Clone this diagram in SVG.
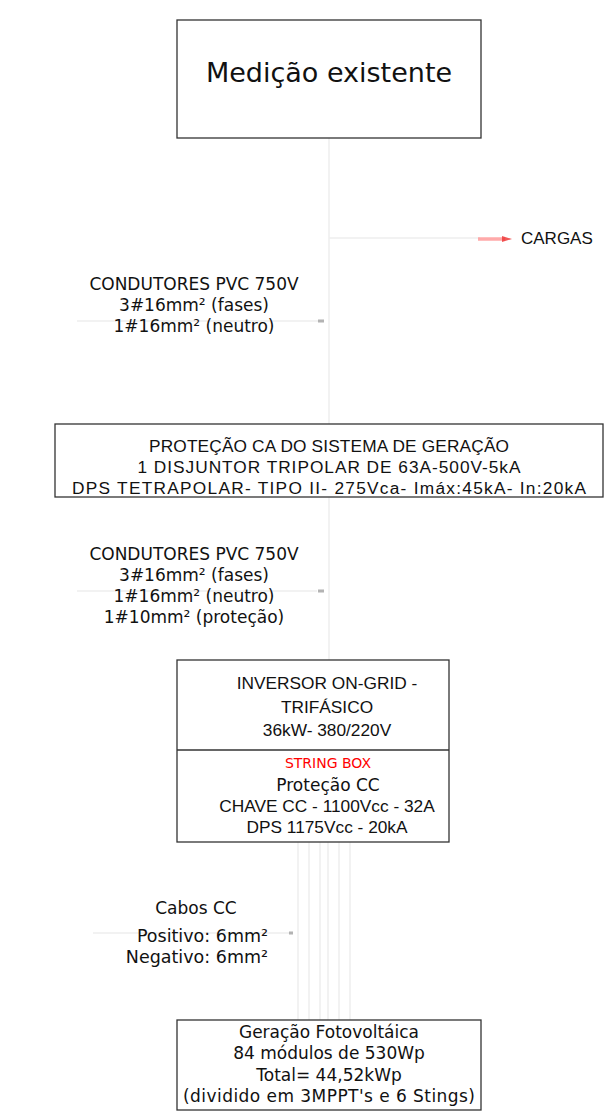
<svg xmlns="http://www.w3.org/2000/svg" width="612" height="1119" viewBox="0 0 612 1119">
<style>
.box{fill:#fff;stroke:#333;stroke-width:1.3}
.dj{font-family:"DejaVu Sans",Verdana,sans-serif;fill:#111;text-anchor:middle;font-size:17px}
.ar{font-family:"Liberation Sans",Arial,sans-serif;fill:#111;text-anchor:middle;font-size:17.3px}
.wire{stroke:#eeeeee;stroke-width:1.5;fill:none}
.tip{fill:#9a9a9a;opacity:0.75}
</style>
<rect width="612" height="1119" fill="#fff"/>
<g id="connectors">
<line class="wire" x1="329" y1="138" x2="329" y2="424"/>
<line class="wire" x1="329" y1="238" x2="480" y2="238"/>
<line x1="478" y1="239" x2="505" y2="239" stroke="#ff9c9c" stroke-width="3.5" opacity="0.85"/>
<polygon points="502,236 512,239 502,242" fill="#ee3a3a" opacity="0.85"/>
<line class="wire" x1="77" y1="321" x2="318" y2="321"/>
<rect class="tip" x="318" y="319.5" width="6" height="3"/>
<line class="wire" x1="329" y1="497" x2="329" y2="660"/>
<line class="wire" x1="77" y1="591" x2="317" y2="591"/>
<rect class="tip" x="318" y="589.5" width="6" height="3"/>
<line class="wire" x1="298" y1="842" x2="298" y2="1020"/>
<line class="wire" x1="309" y1="842" x2="309" y2="1020"/>
<line class="wire" x1="320" y1="842" x2="320" y2="1020"/>
<line class="wire" x1="328" y1="842" x2="328" y2="1020"/>
<line class="wire" x1="339" y1="842" x2="339" y2="1020"/>
<line class="wire" x1="350" y1="842" x2="350" y2="1020"/>
<line class="wire" x1="93" y1="933" x2="289" y2="933"/>
<rect class="tip" x="289" y="931.5" width="4" height="3"/>
</g>
<g id="medicao">
<rect class="box" x="177" y="20" width="304" height="118"/>
<text class="dj" x="329" y="82" style="font-size:27px">Medição existente</text>
</g>
<g id="cargas">
<text x="521" y="244" font-family="Liberation Sans, Arial, sans-serif" font-size="17" fill="#111">CARGAS</text>
</g>
<g id="condutores1">
<text class="dj" x="194" y="290">CONDUTORES PVC 750V</text>
<text class="dj" x="194" y="311">3#16mm² (fases)</text>
<text class="dj" x="194" y="332">1#16mm² (neutro)</text>
</g>
<g id="protecao-ca">
<rect class="box" x="55" y="424" width="548" height="73"/>
<text class="ar" x="329" y="452" textLength="360" lengthAdjust="spacing">PROTEÇÃO CA DO SISTEMA DE GERAÇÃO</text>
<text class="ar" x="329" y="473" textLength="383" lengthAdjust="spacing">1 DISJUNTOR TRIPOLAR DE 63A-500V-5kA</text>
<text class="ar" x="329" y="494" textLength="514" lengthAdjust="spacing">DPS TETRAPOLAR- TIPO II- 275Vca- Imáx:45kA- In:20kA</text>
</g>
<g id="condutores2">
<text class="dj" x="194" y="560">CONDUTORES PVC 750V</text>
<text class="dj" x="194" y="581">3#16mm² (fases)</text>
<text class="dj" x="194" y="602">1#16mm² (neutro)</text>
<text class="dj" x="194" y="623">1#10mm² (proteção)</text>
</g>
<g id="inversor">
<rect class="box" x="177" y="660" width="272" height="182"/>
<line x1="177" y1="750" x2="449" y2="750" stroke="#333" stroke-width="1.3"/>
<text class="ar" x="327" y="689">INVERSOR ON-GRID -</text>
<text class="ar" x="327" y="713">TRIFÁSICO</text>
<text class="ar" x="327" y="736">36kW- 380/220V</text>
<text class="dj" x="328" y="768" style="font-size:14px;fill:#ff0000">STRING BOX</text>
<text class="dj" x="328" y="791">Proteção CC</text>
<text class="ar" x="327" y="812">CHAVE CC - 1100Vcc - 32A</text>
<text class="ar" x="327" y="833">DPS 1175Vcc - 20kA</text>
</g>
<g id="cabos-cc">
<text class="dj" x="196" y="914">Cabos CC</text>
<text class="dj" x="268" y="942" style="text-anchor:end;font-size:17.5px">Positivo: 6mm²</text>
<text class="dj" x="268" y="963" style="text-anchor:end;font-size:17.5px">Negativo: 6mm²</text>
</g>
<g id="geracao">
<rect class="box" x="177" y="1020" width="304" height="90"/>
<text class="dj" x="329" y="1038">Geração Fotovoltáica</text>
<text class="dj" x="329" y="1059">84 módulos de 530Wp</text>
<text class="dj" x="329" y="1081">Total= 44,52kWp</text>
<text class="dj" x="329" y="1102" textLength="292" lengthAdjust="spacing">(dividido em 3MPPT's e 6 Stings)</text>
</g>
</svg>
